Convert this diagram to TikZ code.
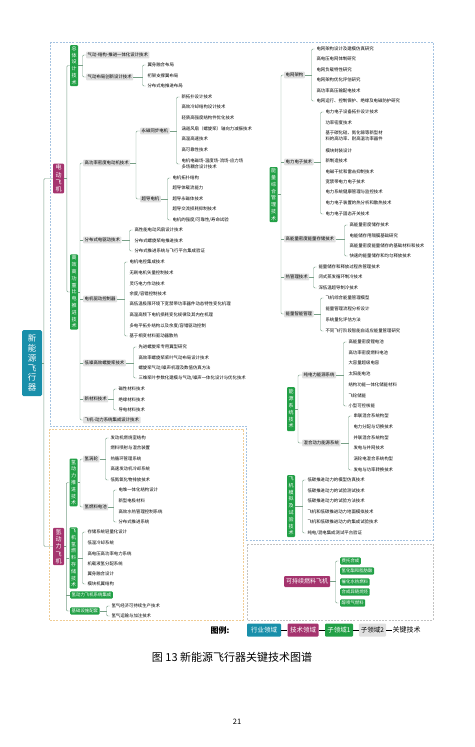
\documentclass[tikz,border=0pt]{standalone}
\usepackage{fontspec}
\setmainfont{Noto Sans CJK SC}
\usetikzlibrary{positioning}

% colours of the five levels and of the three zones
\definecolor{indc}{RGB}{25,143,170}
\definecolor{domc}{RGB}{165,52,110}
\definecolor{subac}{RGB}{34,160,70}
\definecolor{subbc}{RGB}{224,224,224}
\definecolor{linec}{RGB}{120,160,135}
\definecolor{evline}{RGB}{165,195,225}
\definecolor{hyline}{RGB}{240,205,150}
\definecolor{safline}{RGB}{195,195,195}

\newcommand{\keyfont}{\fontsize{4.4}{5.4}\selectfont}
\newcommand{\subfont}{\fontsize{5}{6.8}\selectfont}
\newcommand{\domfont}{\fontsize{6}{7.3}\selectfont}

\tikzset{
  link/.style={draw=linec, line width=0.45pt},
  keytech/.style={anchor=west, font=\keyfont, inner sep=0.3pt, align=left},
  subtwo/.style={anchor=west, fill=subbc, font=\keyfont, inner xsep=1.5pt, inner ysep=1.4pt, rounded corners=0.8pt},
  subone/.style={fill=subac, text=white, font=\subfont, inner sep=1.2pt, rounded corners=1pt, align=center, minimum width=8pt},
  subonewide/.style={anchor=west, fill=subac, text=white, font=\keyfont, inner xsep=1.5pt, inner ysep=1.6pt, rounded corners=1pt},
  techarea/.style={fill=domc, text=white, font=\domfont, inner sep=1.2pt, rounded corners=1pt, align=center, minimum width=11pt},
  industry/.style={fill=indc, text=white, font=\fontsize{8.5}{9.8}\selectfont, rounded corners=1.5pt, align=center, minimum width=20pt, minimum height=66pt},
  zone/.style={dash pattern=on 2pt off 1.2pt, line width=0.7pt},
  legbox/.style={text=white, font=\fontsize{6.5}{7}\selectfont, minimum height=13pt, inner xsep=2pt, rounded corners=1pt},
}

% key technologies of one parent, behind a curly bracket
\newcommand{\keylist}[5][keytech]{%
  \foreach \y/\t [count=\i] in {#5} {
    \node[#1] (#3-\i) at (#4,\y) {\t};
    \xdef\lastkey{\i}
  }
  \coordinate (#3-top) at ([xshift=-4.5pt]#3-1.west);
  \coordinate (#3-bot) at ([xshift=-4.5pt]#3-\lastkey.west);
  \draw[link, rounded corners=1.2pt] ([xshift=-1.5pt]#3-1.west) -- (#3-top) -- (#3-bot) -- ([xshift=-1.5pt]#3-\lastkey.west);
  \draw[link] (#2.east) -- (#3-top |- #2.east);
}

% parent joined to its first, last and middle children
\newcommand{\fork}[5]{%
  \coordinate (#2-ft) at ([xshift=-#5]#2.west);
  \coordinate (#2-fb) at (#2-ft |- #3.west);
  \draw[link, rounded corners=1.2pt] (#2.west) -- (#2-ft) -- (#2-fb) -- (#3.west);
  \draw[link] (#1.east) -- (#2-ft |- #1.east);
  \if\relax\detokenize{#4}\relax\else
    \foreach \c in {#4} {\draw[link] (\c.west) -- (#2-ft |- \c.west);}
  \fi
}

\begin{document}
\begin{tikzpicture}[x=1pt, y=-1pt]
\useasboundingbox (0,0) rectangle (474,747);

% --- zones ---
\draw[zone, evline] (50,42) -- (433,42) -- (433,540) -- (246,540) -- (246,426) -- (50,426) -- cycle;
\draw[zone, hyline] (49,429) rectangle (243,620);
\draw[zone, safline] (247,544) rectangle (433,620);

% --- industry and technical domains ---
\node[industry] (root) at (32,363) {新\\能\\源\\飞\\行\\器};
\node[techarea, minimum height=29pt] (ev) at (58.5,178.5) {电\\动\\飞\\机};
\node[techarea, minimum height=37pt] (hy) at (58.5,546.5) {氢\\动\\力\\飞\\机};
\node[techarea, anchor=west, minimum height=11pt, inner xsep=2pt] (saf) at (284,581.5) {可持续燃料飞机};

% --- sub-domains 1 ---
\node[subone, minimum height=41pt] (design) at (74,65.5) {总\\体\\设\\计\\技\\术};
\node[subone, minimum height=75pt] (prop) at (74,292) {高\\效\\高\\功\\重\\比\\电\\推\\进\\技\\术};
\node[subone, minimum height=55pt] (energy) at (273.5,194.5) {能\\量\\综\\合\\管\\理\\技\\术};
\node[subone, minimum height=44pt] (source) at (291,409) {能\\源\\系\\统\\技\\术};
\node[subone, minimum height=62pt] (test) at (291,506) {飞\\机\\模\\拟\\及\\试\\验\\技\\术};
\node[subone, minimum height=47pt] (h2prop) at (73.5,482.5) {氢\\动\\力\\推\\进\\技\\术};
\node[subone, minimum height=60pt] (h2store) at (73.5,558) {飞\\机\\氢\\燃\\料\\存\\储\\技\\术};
\node[subonewide] (h2sys) at (70,595) {氢动力飞机系统集成};
\node[subonewide] (h2infra) at (70,611) {基础设施配套};

% --- sub-domains 2 ---
\node[subtwo] (aero1) at (86,55) {气动-结构-推进一体化设计技术};
\node[subtwo] (aero2) at (86,77) {气动布局创新设计技术};
\node[subtwo] (motor) at (83,163) {高功率密度电动机技术};
\node[subtwo] (pmsm) at (140,131) {永磁同步电机};
\node[subtwo] (scm) at (140,199) {超导电机};
\node[subtwo] (dist) at (83,240) {分布式电驱动技术};
\node[subtwo] (ctrl) at (83,299) {电机驱动控制器};
\node[subtwo] (prop2) at (83,363) {低噪高效螺旋桨技术};
\node[subtwo] (mat) at (83,399) {新材料技术};
\node[subtwo] (integ) at (83,420) {飞机-动力系统集成设计技术};
\node[subtwo] (grid) at (284,75) {电网架构};
\node[subtwo] (pe) at (284,162) {电力电子技术};
\node[subtwo] (store) at (284,239) {高能量密度能量存储技术};
\node[subtwo] (thermal) at (284,277) {热管理技术};
\node[subtwo] (smart) at (284,314) {能量智能管理};
\node[subtwo] (pure) at (302,375) {纯电力能源系统};
\node[subtwo] (hybrid) at (302,443) {混合动力能源系统};
\node[subtwo] (turb) at (83,459) {氢涡轮};
\node[subtwo] (fc) at (83,507) {氢燃料电池};

% --- tree ---
\fork{root}{ev}{hy}{}{9pt}
\fork{ev}{design}{prop}{}{3pt}
\fork{design}{aero1}{aero2}{}{3.5pt}
\fork{prop}{motor}{integ}{dist,ctrl,prop2,mat}{3pt}
\fork{motor}{pmsm}{scm}{}{4pt}
\fork{energy}{grid}{smart}{pe,store,thermal}{3pt}
\fork{source}{pure}{hybrid}{}{4pt}
\fork{hy}{h2prop}{h2infra}{h2store,h2sys}{3pt}
\fork{h2prop}{turb}{fc}{}{3pt}

% --- key technologies ---
\keylist{aero2}{aero2k}{147}{65/翼身融合布局, 76/桁架支撑翼布局, 86/分布式电推进布局}
\keylist{pmsm}{pmsmk}{181}{97/新拓扑设计技术, 107/高效冷却结构设计技术, 118/轻质高强度结构件优化技术, 129/涵道风扇（螺旋桨）轴向力减振技术, 139/高温高速技术, 150/高可靠性技术, 164/{电机电磁场-温度场-流场-应力场\\多场耦合设计技术}}
\keylist{scm}{scmk}{172}{178/电机拓扑结构, 188/超导体载流能力, 199/超导永磁体技术, 209/超导交流损耗抑制技术, 220/{电机的强度/可靠性/寿命试验}}
\keylist{dist}{distk}{134}{230/高性能电动风扇设计技术, 241/分布式螺旋桨电推进技术, 251/分布式推进系统与飞行平台集成验证}
\keylist{ctrl}{ctrlk}{129}{262/电机电控集成技术, 273/无刷电机矢量控制技术, 284/灵巧电力作动技术, 294/{余度/容错控制技术}, 304/高低温极限环境下宽禁带功率器件动态特性变化机理, 315/高温高频下电机损耗变化规律及其内在机理, 326/{多电平拓扑结构以及余度/容错驱动控制}, 336/基于相变材料驱动器散热}
\keylist{prop2}{prop2k}{138}{347/先进螺旋桨专用翼型研究, 358/高效率螺旋桨桨叶气动布局设计技术, 368/{螺旋桨气动/噪声机理及数值仿真方法}, 378/{三维桨叶参数化建模与气动/噪声一体化设计与优化技术}}
\keylist{mat}{matk}{118}{389/磁性材料技术, 400/绝缘材料技术, 410/导电材料技术}
\keylist{grid}{gridk}{316}{49/电网架构设计及建模仿真研究, 59/高电压电网体制研究, 70/电网负载特性研究, 80/电网架构优化评估研究, 91/高功率高压输配电技术, 101/电网运行、控制保护、绝缘及电磁防护研究}
\keylist{pe}{pek}{325}{112/电力电子设备拓扑设计技术, 123/功率密度技术, 136/{基于碳化硅、氮化镓等新型材\\料的高功率、耐高温功率器件}, 151/模块封装设计, 161/新制造技术, 172/电磁干扰和雷击抑制技术, 182/宽禁带电力电子技术, 192/电力系统健康管理与监控技术, 203/电力电子装置的热分析和散热技术, 214/电力电子固态开关技术}
\keylist{store}{storek}{349}{225/高能量密度储存技术, 236/电能储存用隔膜基础研究, 246/高能量密度能量储存的基础材料和技术, 256/快速的能量储存和均匀释放技术}
\keylist{thermal}{thermalk}{318}{267/能量储存和释放过程热管理技术, 277/闭式蒸发循环制冷技术, 288/深低温超导制冷技术}
\keylist{smart}{smartk}{325}{298/飞机综合能量管理模型, 309/能量管理流程分析设计, 320/系统量化评估方法, 331/不同飞行阶段智能自适应能量管理研究}
\keylist{pure}{purek}{348}{342/高能量密度锂电池, 353/高功率密度燃料电池, 363/大容量超级电容, 374/太阳能电池, 385/结构功能一体化储能材料, 396/飞轮储能, 406/小型可控核能}
\keylist{hybrid}{hybridk}{353}{416/串联混合系统构型, 427/电力分配与切换技术, 438/并联混合系统构型, 448/发电与并网技术, 459/涡轮电混合系统构型, 470/发电与功率转换技术}
\keylist{test}{testk}{307}{480/低碳推进动力的模型仿真技术, 491/低碳推进动力的试验测试技术, 501/低碳推进动力的试验方法技术, 512/飞机和低碳推进动力地面模拟技术, 522/飞机和低碳推进动力的集成试验技术, 533/{纯电/混电集成测试平台验证}}
\keylist{turb}{turbk}{110}{438/发动机燃烧室结构, 448/燃料喷射与混合装置, 459/热循环管理系统, 469/高速发动机冷却系统, 480/低氮氧化物排放技术}
\keylist{fc}{fck}{118}{490/电堆一体化结构设计, 501/新型电极材料, 512/高效水热管理控制系统, 522/分布式推进系统}
\keylist{h2store}{h2storek}{87}{532/存储系统轻量化设计, 543/低温冷却系统, 554/高电压高功率电力系统, 564/机载液氢分配系统, 574/翼身融合设计, 584/模块机翼结构}
\keylist{h2infra}{h2infrak}{111}{606/氢气经济可持续生产技术, 616/氢气运输与加注技术}
\keylist[subonewide]{saf}{safk}{340}{561/费托合成, 571/氢化酯和脂肪酸, 582/催化水热燃料, 592/合成异链烷烃, 603/醇喷气燃料}

% --- legend ---
\node[font=\bfseries\fontsize{8}{9}\selectfont] (legtitle) at (220,630) {图例:};
\node[legbox, fill=indc, minimum width=34pt] (leg1) at (264,630) {行业领域};
\node[legbox, fill=domc, minimum width=31pt] (leg2) at (303,630) {技术领域};
\node[legbox, fill=subac, minimum width=28pt] (leg3) at (339,630) {子领域1};
\node[legbox, fill=subbc, text=black, minimum width=27pt] (leg4) at (372.5,630) {子领域2};
\node[font=\fontsize{7}{8}\selectfont, anchor=west, inner sep=0.5pt] (leg5) at (392,630) {关键技术};
\draw (leg1) -- (leg2);
\draw (leg2) -- (leg3);
\draw (leg3) -- (leg4);
\draw (leg4) -- (leg5);

% --- caption and page number ---
\node[font=\fontsize{11}{12}\selectfont] (caption) at (232,657) {图 13 新能源飞行器关键技术图谱};
\node[font=\fontsize{7.5}{8}\selectfont] (page) at (237,722) {21};
\end{tikzpicture}
\end{document}
